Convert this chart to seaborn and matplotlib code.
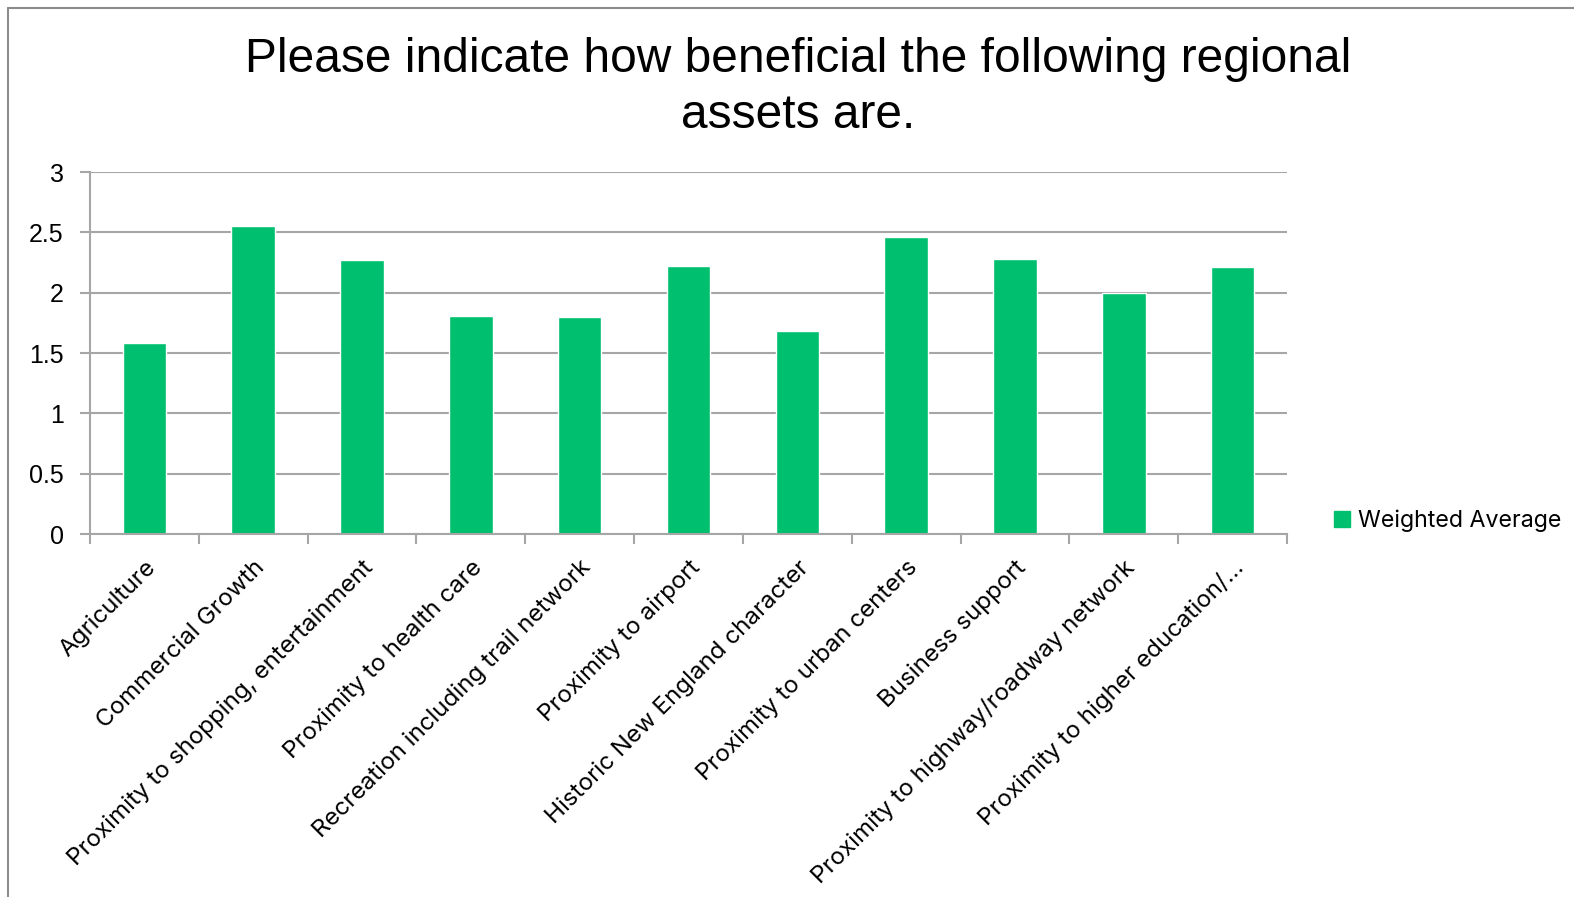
import numpy as np
import pandas as pd
import matplotlib
matplotlib.use('Agg')
import matplotlib.pyplot as plt
from matplotlib.lines import Line2D
import seaborn as sns

# Survey results (weighted average per asset)
categories = [
    'Agriculture',
    'Commercial Growth',
    'Proximity to shopping, entertainment',
    'Proximity to health care',
    'Recreation including trail network',
    'Proximity to airport',
    'Historic New England character',
    'Proximity to urban centers',
    'Business support',
    'Proximity to highway/roadway network',
    'Proximity to higher education/...',
]
weighted_avg = [1.58, 2.55, 2.27, 1.81, 1.80, 2.22, 1.68, 2.46, 2.28, 2.00, 2.21]
y_ticks = [0, 0.5, 1, 1.5, 2, 2.5, 3]
y_ticklabels = ['0', '0.5', '1', '1.5', '2', '2.5', '3']

df = pd.DataFrame({'Asset': categories, 'Weighted Average': weighted_avg})

sns.set_style('white')
plt.rcParams['font.family'] = ['Liberation Sans', 'DejaVu Sans']
plt.rcParams['text.color'] = 'black'
plt.rcParams['xtick.color'] = 'black'
plt.rcParams['ytick.color'] = 'black'

GREEN = '#00BF6F'
GRID = '#A6A6A6'

fig = plt.figure(figsize=(15.74, 8.97), dpi=100)
ax = fig.add_axes([90 / 1574, 1 - 534 / 897, 1197 / 1574, 362 / 897])

sns.barplot(data=df, x='Asset', y='Weighted Average', color=GREEN,
            width=0.4, saturation=1, ax=ax, label='Weighted Average')

ax.set_ylim(0, 3)
ax.set_xlim(-0.5, len(categories) - 0.5)
ax.set_yticks(y_ticks)
ax.set_yticklabels(y_ticklabels, fontsize=18)
ax.yaxis.grid(True, color=GRID, linewidth=1.5)
ax.set_axisbelow(True)
ax.set_xlabel('')
ax.set_ylabel('')

# spines
for s in ['top', 'right']:
    ax.spines[s].set_visible(False)
for s in ['left', 'bottom']:
    ax.spines[s].set_color(GRID)
    ax.spines[s].set_linewidth(1.5)

ax.tick_params(axis='y', length=7, color=GRID, labelcolor='black', width=1.5, pad=12, left=True)
# tick marks sit between categories, labels at centers
ax.set_xticks(np.arange(len(categories)))
ax.set_xticks(np.arange(-0.5, len(categories)), minor=True)
ax.tick_params(axis='x', which='major', length=0, pad=16, labelcolor='black')
ax.tick_params(axis='x', which='minor', length=7, color=GRID, width=1.5, bottom=True)
ax.set_xticklabels(categories, rotation=45, ha='right', rotation_mode='anchor',
                   fontsize=17.4, family=['Inter', 'DejaVu Sans'])

fig.suptitle('Please indicate how beneficial the following regional\nassets are.',
             x=798 / 1574, y=1 - 37 / 897, va='top', fontsize=34.5, linespacing=1.32,
             color='black')

handles = [Line2D([0], [0], marker='s', color='none', markerfacecolor=GREEN,
                  markeredgecolor=GREEN, markersize=12)]
fig.legend(handles, ['Weighted Average'], loc='center left',
           bbox_to_anchor=(1312 / 1574, 1 - 521 / 897), frameon=False,
           handlelength=0.8, handletextpad=0.3,
           prop={'family': ['Inter', 'DejaVu Sans'], 'size': 16.7})
if ax.get_legend() is not None:
    ax.get_legend().remove()

# outer chart frame (cut at right/bottom in the original)
fig.add_artist(Line2D([8 / 1574, 1], [1 - 8 / 897, 1 - 8 / 897], color='#8C8C8C',
                      linewidth=1.5, transform=fig.transFigure))
fig.add_artist(Line2D([8 / 1574, 8 / 1574], [0, 1 - 8 / 897], color='#8C8C8C',
                      linewidth=1.5, transform=fig.transFigure))

fig.savefig('out.png', dpi=100)
